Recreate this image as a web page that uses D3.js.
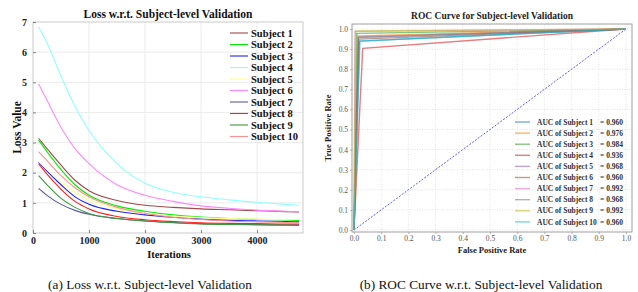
<!DOCTYPE html>
<html>
<head>
<meta charset="utf-8">
<script src="https://cdn.jsdelivr.net/npm/d3@7"></script>
<style>
  body { margin: 0; background: #fff; }
  text { font-family: "Liberation Serif", "Times New Roman", serif; }
</style>
</head>
<body>
<svg id="chart" width="638" height="292"></svg>
<script>
// ---- data: loss curves ----
const iterations = [100, 250, 500, 750, 1000, 1500, 2000, 2500, 3000, 3500, 4000, 4500, 4750];
const lossNames = ["Subject 1", "Subject 2", "Subject 3", "Subject 4", "Subject 5",
                   "Subject 6", "Subject 7", "Subject 8", "Subject 9", "Subject 10"];
const lossColors = ["#a04a4a", "#00ee00", "#2020ff", "#90ffff", "#ffff90",
                    "#ff88ff", "#5a5aa0", "#ff2020", "#3a9a3a", "#ff9090"];
const loss1  = [3.14, 2.80, 2.25, 1.75, 1.40, 1.08, 0.92, 0.85, 0.80, 0.77, 0.74, 0.71, 0.70];
const loss2  = [3.08, 2.70, 2.10, 1.60, 1.25, 0.90, 0.72, 0.60, 0.53, 0.48, 0.45, 0.43, 0.42];
const loss3  = [2.35, 2.05, 1.60, 1.20, 0.95, 0.72, 0.60, 0.52, 0.46, 0.42, 0.40, 0.38, 0.37];
const loss4  = [6.84, 6.30, 5.20, 4.20, 3.40, 2.30, 1.65, 1.35, 1.20, 1.10, 1.02, 0.95, 0.92];
const loss5  = [2.38, 2.10, 1.70, 1.35, 1.10, 0.80, 0.65, 0.56, 0.51, 0.48, 0.46, 0.45, 0.45];
const loss6  = [4.95, 4.40, 3.50, 2.80, 2.30, 1.60, 1.25, 1.05, 0.90, 0.82, 0.76, 0.72, 0.70];
const loss7  = [1.48, 1.25, 0.95, 0.75, 0.62, 0.48, 0.40, 0.35, 0.31, 0.29, 0.28, 0.27, 0.27];
const loss8  = [2.30, 1.95, 1.45, 1.05, 0.80, 0.55, 0.44, 0.38, 0.34, 0.32, 0.31, 0.30, 0.30];
const loss9  = [1.90, 1.60, 1.15, 0.85, 0.65, 0.48, 0.40, 0.34, 0.30, 0.28, 0.27, 0.26, 0.25];
const loss10 = [2.70, 2.40, 1.90, 1.50, 1.20, 0.85, 0.65, 0.52, 0.45, 0.40, 0.37, 0.35, 0.34];
const lossSeries = [loss1, loss2, loss3, loss4, loss5, loss6, loss7, loss8, loss9, loss10];
const lossXTicks = [0, 1000, 2000, 3000, 4000];
const lossYTicks = [0, 1, 2, 3, 4, 5, 6, 7];

// ---- data: ROC curves (fpr, tpr knee points) ----
const rocNames = lossNames;
const rocAuc = ["0.960", "0.976", "0.984", "0.936", "0.968", "0.960", "0.992", "0.968", "0.992", "0.960"];
const rocColors = ["#1f77b4", "#ff7f0e", "#2ca02c", "#d62728", "#9467bd",
                   "#8c564b", "#e377c2", "#7f7f7f", "#bcbd22", "#17becf"];
const rocFpr = [0.020, 0.014, 0.010, 0.032, 0.016, 0.018, 0.004, 0.016, 0.006, 0.022];
const rocTpr = [0.940, 0.966, 0.978, 0.904, 0.958, 0.950, 0.988, 0.960, 0.990, 0.940];
const rocTicks = [0, 0.1, 0.2, 0.3, 0.4, 0.5, 0.6, 0.7, 0.8, 0.9, 1.0];

const svg = d3.select("#chart");

// =================== left: loss ===================
const L = { left: 33, right: 303, top: 22, bottom: 233 };
const xL = d3.scaleLinear().domain([0, 4820]).range([L.left, L.right]);
const yL = d3.scaleLinear().domain([0, 7]).range([L.bottom, L.top]);

const gL = svg.append("g");

// grid
gL.selectAll(".gx").data(lossXTicks.slice(1)).enter().append("line")
    .attr("x1", d => xL(d)).attr("x2", d => xL(d))
    .attr("y1", L.top).attr("y2", L.bottom)
    .attr("stroke", "#e6e6e6").attr("stroke-width", 0.8);
gL.selectAll(".gy").data(lossYTicks.slice(1, -1)).enter().append("line")
    .attr("x1", L.left).attr("x2", L.right)
    .attr("y1", d => yL(d)).attr("y2", d => yL(d))
    .attr("stroke", "#e6e6e6").attr("stroke-width", 0.8);

// curves
const lineL = d3.line()
    .x((d, i) => xL(iterations[i]))
    .y(d => yL(d))
    .curve(d3.curveMonotoneX);

lossSeries.forEach((s, i) => {
    gL.append("path")
        .datum(s)
        .attr("d", lineL)
        .attr("fill", "none")
        .attr("stroke", lossColors[i])
        .attr("stroke-width", 1.1);
});

// frame
gL.append("rect")
    .attr("x", L.left).attr("y", L.top)
    .attr("width", L.right - L.left).attr("height", L.bottom - L.top)
    .attr("fill", "none").attr("stroke", "#bdbdbd").attr("stroke-width", 0.8);

// axes
const axBL = gL.append("g")
    .attr("transform", `translate(0,${L.bottom})`)
    .call(d3.axisBottom(xL).tickValues(lossXTicks).tickFormat(d3.format("d")).tickSize(-3).tickPadding(4));
const axLL = gL.append("g")
    .attr("transform", `translate(${L.left},0)`)
    .call(d3.axisLeft(yL).tickValues(lossYTicks).tickFormat(d3.format("d")).tickSize(-3).tickPadding(6));
[axBL, axLL].forEach(a => {
    a.attr("font-family", null);
    a.select(".domain").remove();
    a.selectAll(".tick line").attr("stroke", "#444").attr("stroke-width", 0.6);
    a.selectAll("text").attr("font-weight", "bold")
        .attr("font-size", 10).attr("fill", "#222");
});

gL.append("text")
    .attr("x", (L.left + L.right) / 2).attr("y", 18)
    .attr("text-anchor", "middle").attr("font-weight", "bold").attr("font-size", 11.5)
    .attr("fill", "#111")
    .text("Loss w.r.t. Subject-level Validation");
gL.append("text")
    .attr("transform", `translate(21,${(L.top + L.bottom) / 2}) rotate(-90)`)
    .attr("text-anchor", "middle").attr("font-weight", "bold").attr("font-size", 11.5)
    .attr("fill", "#111")
    .text("Loss Value");
gL.append("text")
    .attr("x", 169).attr("y", 258)
    .attr("text-anchor", "middle").attr("font-weight", "bold").attr("font-size", 10.5)
    .attr("fill", "#111")
    .text("Iterations");

// legend
const legL = gL.append("g");
lossNames.forEach((n, i) => {
    const yy = 33 + i * 11.5;
    legL.append("line")
        .attr("x1", 230).attr("x2", 248).attr("y1", yy).attr("y2", yy)
        .attr("stroke", lossColors[i]).attr("stroke-width", 1.1);
    legL.append("text")
        .attr("x", 251).attr("y", yy + 3.6)
        .attr("font-weight", "bold").attr("font-size", 10.5).attr("fill", "#111")
        .text(n);
});

// =================== right: ROC ===================
const R = { left: 352, right: 632, top: 24, bottom: 232 };
const xR = d3.scaleLinear().domain([0, 1]).range([354, 626]);
const yR = d3.scaleLinear().domain([0, 1]).range([230, 29]);

const gR = svg.append("g");

gR.selectAll(".gx").data(rocTicks).enter().append("line")
    .attr("x1", d => xR(d)).attr("x2", d => xR(d))
    .attr("y1", R.top).attr("y2", R.bottom)
    .attr("stroke", "#d0d0d0").attr("stroke-width", 0.6).attr("stroke-dasharray", "1,1.5");
gR.selectAll(".gy").data(rocTicks).enter().append("line")
    .attr("x1", R.left).attr("x2", R.right)
    .attr("y1", d => yR(d)).attr("y2", d => yR(d))
    .attr("stroke", "#d0d0d0").attr("stroke-width", 0.6).attr("stroke-dasharray", "1,1.5");

// chance line
gR.append("line")
    .attr("x1", xR(0)).attr("y1", yR(0)).attr("x2", xR(1)).attr("y2", yR(1))
    .attr("stroke", "#3030ff").attr("stroke-width", 0.8).attr("stroke-dasharray", "2,1.5");

const lineR = d3.line().x(d => xR(d[0])).y(d => yR(d[1]));
rocFpr.forEach((f, i) => {
    gR.append("path")
        .datum([[0, 0], [f, rocTpr[i]], [1, 1]])
        .attr("d", lineR)
        .attr("fill", "none")
        .attr("stroke", rocColors[i])
        .attr("stroke-opacity", 0.6)
        .attr("stroke-width", 1.4);
});

gR.append("rect")
    .attr("x", R.left).attr("y", R.top)
    .attr("width", R.right - R.left).attr("height", R.bottom - R.top)
    .attr("fill", "none").attr("stroke", "#888").attr("stroke-width", 0.8);

const axBR = gR.append("g")
    .attr("transform", `translate(0,${R.bottom})`)
    .call(d3.axisBottom(xR).tickValues(rocTicks).tickFormat(d3.format(".1f")).tickSize(2).tickPadding(2));
const axLR = gR.append("g")
    .attr("transform", `translate(${R.left},0)`)
    .call(d3.axisLeft(yR).tickValues(rocTicks).tickFormat(d3.format(".1f")).tickSize(2).tickPadding(2));
[axBR, axLR].forEach(a => {
    a.attr("font-family", null);
    a.select(".domain").remove();
    a.selectAll(".tick line").attr("stroke", "#888").attr("stroke-width", 0.6);
    a.selectAll("text").attr("font-size", 7.5).attr("fill", "#555");
});

gR.append("text")
    .attr("x", 492).attr("y", 19)
    .attr("text-anchor", "middle").attr("font-weight", "bold").attr("font-size", 9.5)
    .attr("fill", "#222")
    .text("ROC Curve for Subject-level Validation");
gR.append("text")
    .attr("transform", `translate(331,${(R.top + R.bottom) / 2}) rotate(-90)`)
    .attr("text-anchor", "middle").attr("font-weight", "bold").attr("font-size", 8.5)
    .attr("fill", "#222")
    .text("True Positive Rate");
gR.append("text")
    .attr("x", 492).attr("y", 253)
    .attr("text-anchor", "middle").attr("font-weight", "bold").attr("font-size", 8.5)
    .attr("fill", "#222")
    .text("False Positive Rate");

const legR = gR.append("g");
rocNames.forEach((n, i) => {
    const yy = 122 + i * 11.1;
    legR.append("line")
        .attr("x1", 515).attr("x2", 530).attr("y1", yy).attr("y2", yy)
        .attr("stroke", rocColors[i]).attr("stroke-opacity", 0.6).attr("stroke-width", 1.4);
    legR.append("text")
        .attr("x", 537).attr("y", yy + 2.6)
        .attr("font-weight", "bold").attr("font-size", 7.5).attr("fill", "#333")
        .text("AUC of " + n);
    legR.append("text")
        .attr("x", 600).attr("y", yy + 2.6)
        .attr("font-weight", "bold").attr("font-size", 7.5).attr("fill", "#333")
        .text("= " + rocAuc[i]);
});

// captions
svg.append("text")
    .attr("x", 150).attr("y", 289).attr("text-anchor", "middle")
    .attr("font-size", 13.3).attr("fill", "#111")
    .text("(a) Loss w.r.t. Subject-level Validation");
svg.append("text")
    .attr("x", 481).attr("y", 289).attr("text-anchor", "middle")
    .attr("font-size", 13.3).attr("fill", "#111")
    .text("(b) ROC Curve w.r.t. Subject-level Validation");
</script>
</body>
</html>
